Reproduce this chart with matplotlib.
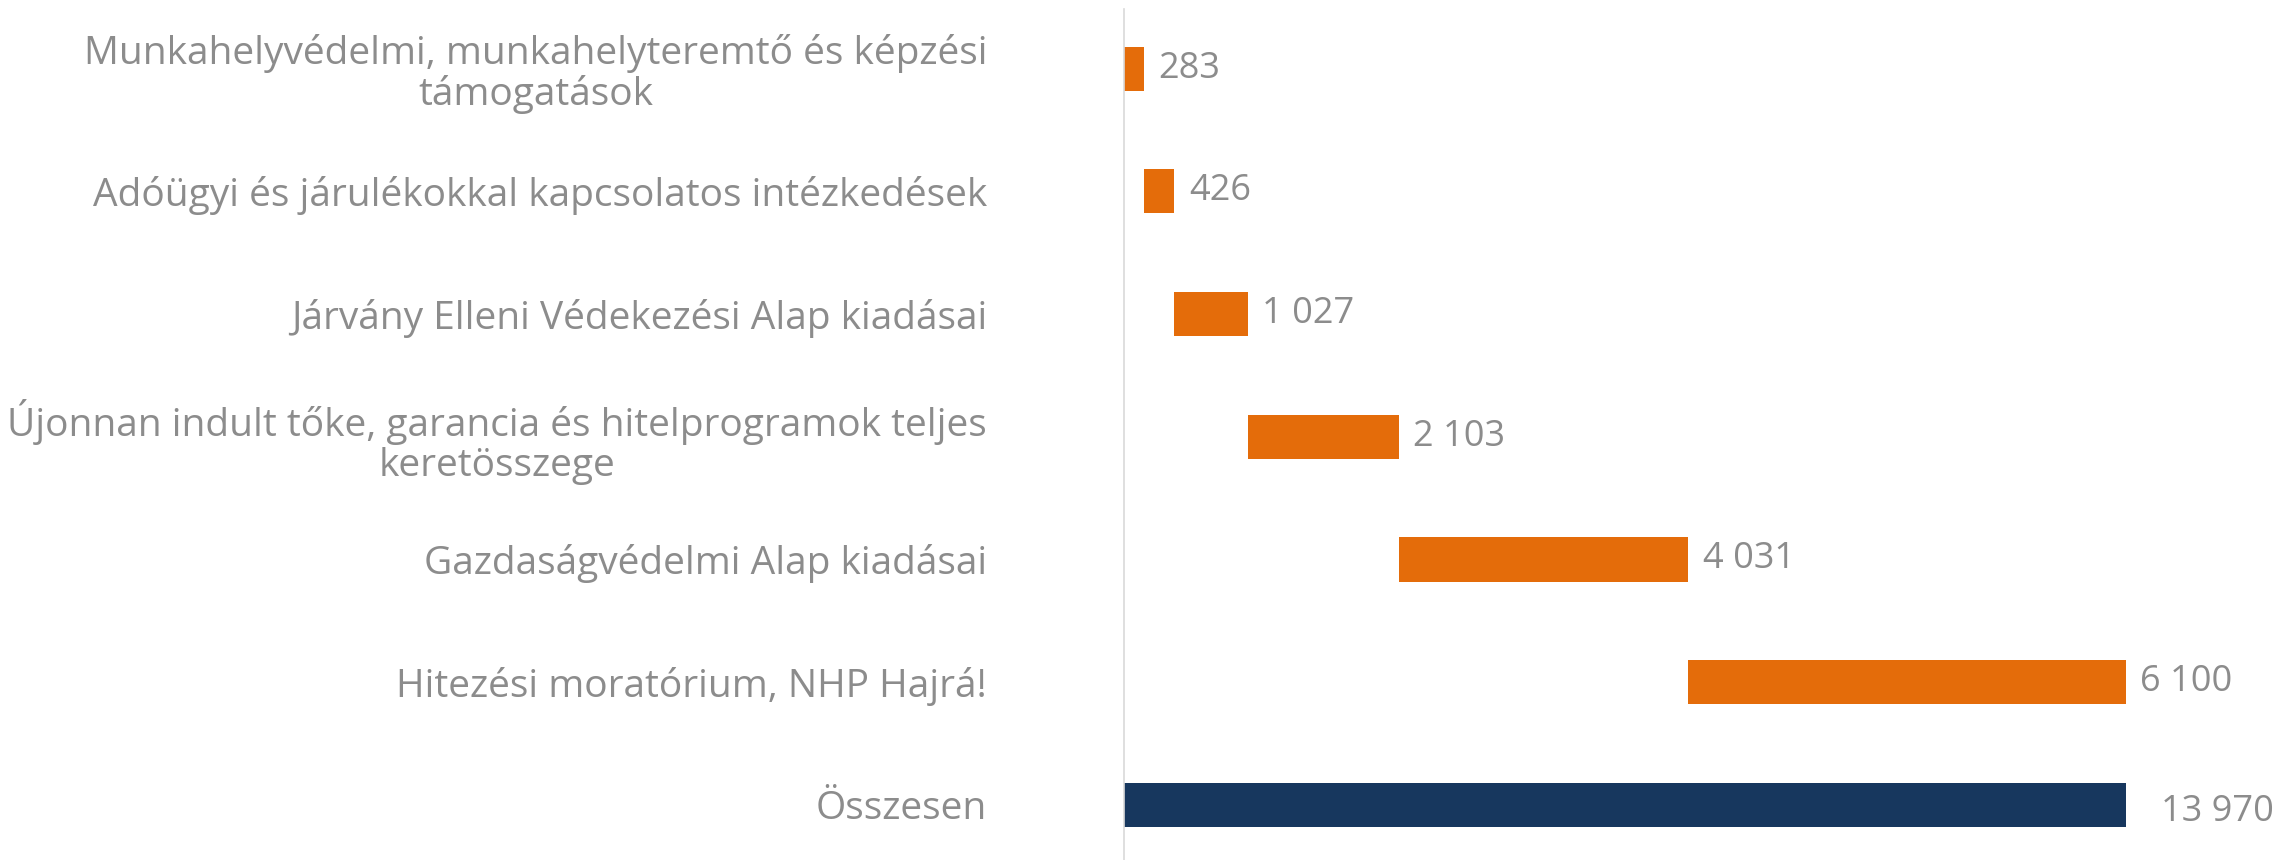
import matplotlib
matplotlib.use("Agg")
import matplotlib.pyplot as plt

# categories, top to bottom
categories = [
    "Munkahelyvédelmi, munkahelyteremtő és képzési\ntámogatások",
    "Adóügyi és járulékokkal kapcsolatos intézkedések",
    "Járvány Elleni Védekezési Alap kiadásai",
    "Újonnan indult tőke, garancia és hitelprogramok teljes\nkeretösszege",
    "Gazdaságvédelmi Alap kiadásai",
    "Hitezési moratórium, NHP Hajrá!",
    "Összesen",
]
values = [283, 426, 1027, 2103, 4031, 6100]
total = 13970
value_labels = ["283", "426", "1 027", "2 103", "4 031", "6 100", "13 970"]

orange = "#E46C0A"
navy = "#17375E"
grey = "#8C8C8C"

plt.rcParams['font.family'] = ['Open Sans', 'DejaVu Sans']

fig = plt.figure(figsize=(22.79, 8.60), dpi=100)
ax = fig.add_axes([0.493, 0.0, 0.507, 0.99])

# waterfall: each step starts where the previous one ended
starts = []
running = 0
for v in values:
    starts.append(running)
    running += v

ypos = list(range(len(categories)))
ax.barh(ypos[:-1], values, left=starts, height=0.36, color=orange)
ax.barh(ypos[-1], total, left=0, height=0.36, color=navy)

# value labels
ends = [s + v for s, v in zip(starts, values)] + [total]
for i, (e, lab) in enumerate(zip(ends, value_labels)):
    if i < len(values):
        ax.text(e + 200, i, lab, va="center", ha="left", fontsize=26, color=grey)
    else:
        ax.text(e + 480, i + 0.06, lab, va="center", ha="left", fontsize=26, color=grey)

ax.set_ylim(6.45, -0.49)
ax.set_xlim(0, 16100)
ax.set_yticks(ypos)
ax.set_yticklabels(categories, fontsize=28, color=grey, linespacing=1.05)
ax.tick_params(axis="y", length=0, pad=0)
ax.set_xticks([])

# right edge of labels sits well left of the axis, multi-line labels centred
for lbl in ax.get_yticklabels():
    lbl.set_horizontalalignment("right")
    lbl.set_multialignment("center")
    lbl.set_x(-0.118)

for side in ["top", "right", "bottom"]:
    ax.spines[side].set_visible(False)
ax.spines["left"].set_color("#D9D9D9")
ax.spines["left"].set_linewidth(1.2)

fig.savefig("out.png", dpi=100)
